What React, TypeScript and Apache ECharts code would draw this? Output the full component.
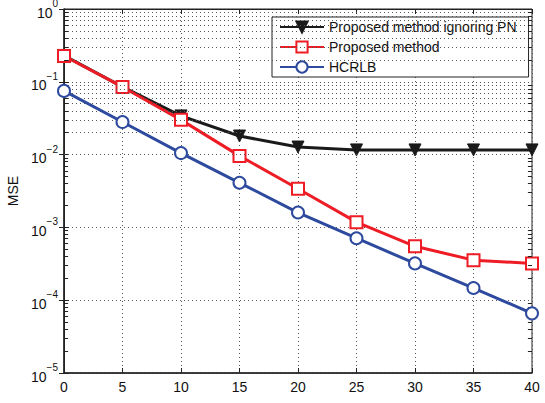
import React, { useEffect, useRef } from "react";
import * as echarts from "echarts";

const snr = [0, 5, 10, 15, 20, 25, 30, 35, 40];
const ignoringPN = [0.23, 0.085, 0.034, 0.018, 0.0127, 0.0116, 0.0116, 0.0116, 0.0116];
const proposed = [0.226, 0.085, 0.03, 0.0096, 0.0034, 0.00118, 0.00055, 0.000355, 0.00032];
const hcrlb = [0.075, 0.028, 0.0105, 0.0041, 0.0016, 0.00071, 0.00032, 0.000147, 0.000066];
const minorGridValues: number[] = [];
for (let e = -5; e < 0; e++) {
  for (let m = 2; m <= 9; m++) minorGridValues.push(m * Math.pow(10, e));
}

const FONT = "Liberation Sans, Arial, sans-serif";

export default function App() {
  const ref = useRef<HTMLDivElement>(null);
  useEffect(() => {
    if (!ref.current) return;
    const chart = echarts.init(ref.current, null, { renderer: "svg" });
    const dotted = { type: [1, 3] as any, color: "#555", width: 1 };
    const tickLen = 0.35; // minor tick length, in x data units
    const minorTicks: any[] = [];
    minorGridValues.forEach((v) => {
      minorTicks.push([{ coord: [0, v] }, { coord: [tickLen, v] }]);
      minorTicks.push([{ coord: [40, v] }, { coord: [40 - tickLen, v] }]);
    });
    chart.setOption({
      animation: false,
      backgroundColor: "#fff",
      textStyle: { fontFamily: FONT },
      grid: {
        left: 64,
        right: 13,
        top: 9,
        bottom: 30,
        show: true,
        borderColor: "#222",
        borderWidth: 1,
        backgroundColor: "transparent",
        containLabel: false,
        outerBoundsMode: "none",
      },
      legend: {
        orient: "vertical",
        left: 272,
        top: 17,
        backgroundColor: "#fff",
        borderColor: "#222",
        borderWidth: 1,
        borderRadius: 0,
        padding: [3, 12, 3, 7],
        itemWidth: 44,
        itemHeight: 14,
        itemGap: 6,
        textStyle: { fontSize: 14, color: "#111", fontFamily: FONT },
        data: ["Proposed method ignoring PN", "Proposed method", "HCRLB"],
      },
      xAxis: [
        {
          type: "value",
          min: 0,
          max: 40,
          interval: 5,
          name: "SNR (dB)",
          nameLocation: "middle",
          nameGap: 29,
          nameTextStyle: { fontSize: 13, color: "#111", fontFamily: FONT },
          axisLine: { show: true, lineStyle: { color: "#222", width: 1.5 } },
          axisTick: { show: true, inside: true, length: 5, lineStyle: { color: "#222" } },
          axisLabel: { fontSize: 14, color: "#111", margin: 7, fontFamily: FONT },
          splitLine: { show: true, lineStyle: dotted },
        },
        {
          type: "value",
          position: "top",
          min: 0,
          max: 40,
          interval: 5,
          axisLine: { show: true, lineStyle: { color: "#222", width: 1 } },
          axisTick: { show: true, inside: true, length: 5, lineStyle: { color: "#222" } },
          axisLabel: { show: false },
          splitLine: { show: false },
        },
      ],
      yAxis: [
        {
          type: "log",
          logBase: 10,
          min: 1e-5,
          max: 1,
          name: "MSE",
          nameLocation: "middle",
          nameGap: 32,
          nameTextStyle: { fontSize: 14, color: "#111", fontFamily: FONT },
          axisLine: { show: true, lineStyle: { color: "#222", width: 1.5 } },
          axisTick: { show: true, inside: true, length: 5, lineStyle: { color: "#222" } },
          axisLabel: {
            margin: 6,
            formatter: (v: number) => {
              const e = Math.round(Math.log10(v));
              return "{b|10}{s|" + (e === 0 ? "0" : "−" + Math.abs(e)) + "}";
            },
            rich: {
              b: { fontSize: 14, color: "#111", fontFamily: FONT, padding: [7, 0, 0, 0] },
              s: { fontSize: 10, color: "#111", fontFamily: FONT, verticalAlign: "top" },
            },
          },
          splitLine: { show: true, lineStyle: dotted },
        },
        {
          type: "log",
          logBase: 10,
          min: 1e-5,
          max: 1,
          position: "right",
          axisLine: { show: true, lineStyle: { color: "#222", width: 1 } },
          axisTick: { show: true, inside: true, length: 5, lineStyle: { color: "#222" } },
          axisLabel: { show: false },
          splitLine: { show: false },
        },
      ],
      series: [
        {
          name: "Proposed method ignoring PN",
          type: "line",
          data: snr.map((x, i) => [x, ignoringPN[i]]),
          color: "#1a1a1a",
          lineStyle: { width: 3, color: "#1a1a1a" },
          symbol: "triangle",
          symbolRotate: 180,
          symbolSize: 12,
          itemStyle: { color: "#1a1a1a", borderColor: "#1a1a1a", borderWidth: 1 },
          markLine: {
            silent: true,
            symbol: "none",
            label: { show: false },
            lineStyle: { type: [1, 3] as any, color: "#555", width: 1 },
            emphasis: { disabled: true },
            data: minorGridValues.map((v) => ({ yAxis: v })),
          },
          z: 3,
        },
        {
          name: "Proposed method",
          type: "line",
          data: snr.map((x, i) => [x, proposed[i]]),
          color: "#ee1c25",
          lineStyle: { width: 3, color: "#ee1c25" },
          symbol: "emptyRect",
          symbolSize: 12,
          itemStyle: { color: "#ee1c25", borderColor: "#ee1c25", borderWidth: 2.5 },
          markLine: {
            silent: true,
            symbol: "none",
            label: { show: false },
            lineStyle: { type: "solid", color: "#222", width: 1 },
            emphasis: { disabled: true },
            data: minorTicks,
          },
          z: 4,
        },
        {
          name: "HCRLB",
          type: "line",
          data: snr.map((x, i) => [x, hcrlb[i]]),
          color: "#2e4a9e",
          lineStyle: { width: 3, color: "#2e4a9e" },
          symbol: "emptyCircle",
          symbolSize: 12,
          itemStyle: { color: "#2e4a9e", borderColor: "#2e4a9e", borderWidth: 2.5 },
          z: 5,
        },
      ],
    });
    return () => chart.dispose();
  }, []);
  return <div ref={ref} style={{ width: 545, height: 403, position: "absolute", left: 0, top: 0 }} />;
}
